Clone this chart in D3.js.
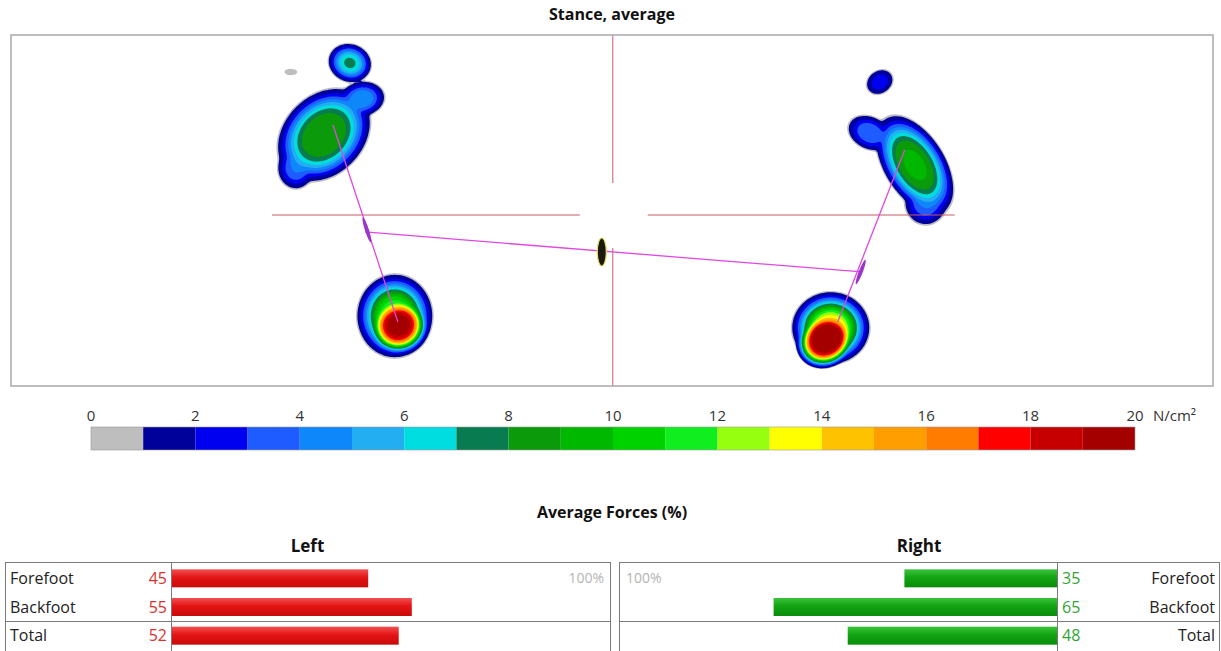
<!DOCTYPE html>
<html>
<head>
<meta charset="utf-8">
<script src="https://cdn.jsdelivr.net/npm/d3@7"></script>
<style>
	body { margin: 0; background: #fff; }
	svg { display: block; font-family: "Segoe UI", "Open Sans", sans-serif; }
</style>
</head>
<body>
<svg id="chart" width="1221" height="651"></svg>
<script>
// plate is 120 x 35 cm, pressure in N/cm2
const plateWidth = 120, plateHeight = 35;

// pressure spots: [cx, cy, rx, ry, angle deg, peak, sharpness]
const leftFootSpots = [
	[27.94, 3.69, 1.0, 0.5, 0, 0.9, 2],
	[33.83, 2.79, 2.35, 2.05, 20, 7.3, 3],
	[31.24, 9.97, 5.5, 4.2, -45, 9, 4],
	[35.03, 6.38, 2.5, 1.9, -10, 5, 3],
	[28.44, 13.26, 2.0, 2.3, 0, 4, 3],
	[38.32, 28.02, 4.0, 4.4, 0, 12, 3.5],
	[38.72, 29.01, 3.2, 3.0, -20, 19.1, 4.5]
];
const rightFootSpots = [
	[86.73, 4.69, 1.6, 1.3, -35, 2.6, 3],
	[90.22, 12.96, 5.8, 3.2, 58, 9.2, 4],
	[85.73, 9.77, 2.5, 1.8, 25, 4, 3],
	[91.32, 16.75, 2.3, 2.4, 0, 4, 3],
	[81.84, 29.21, 4.1, 3.8, 0, 14, 3.5],
	[81.34, 30.41, 3.2, 2.8, -35, 20, 5]
];

// centre of pressure lines
const copLines = [
	[[32.14, 8.97], [38.62, 28.61]],
	[[89.22, 11.47], [82.53, 28.61]],
	[[35.33, 19.64], [84.93, 23.63]]
];
const copMarkers = [[35.53, 19.44, 72], [84.83, 23.63, 111]];
const centreMarker = [58.98, 21.64];

// reference cross
const crossX = 60.08, crossY = 17.95;
const crossHoriz = [[26.05, 56.79], [63.57, 94.21]];
const crossVert = [[0, 14.76], [21.24, 35]];

const legendColors = ['#bebebe', '#00009a', '#0000f0', '#1f5cff', '#0d87fa', '#22aef0', '#00dde0',
	'#087c50', '#0a9a0a', '#00b800', '#00d200', '#10ee20', '#96ff10', '#ffff00', '#ffc200',
	'#ff9e00', '#ff7c00', '#ff0000', '#c60000', '#a40000'];
const legendTicks = [0, 2, 4, 6, 8, 10, 12, 14, 16, 18, 20];
const thresholds = [0.7, 1, 2, 3, 4, 5, 6, 7, 8, 9, 10, 11, 12, 13, 14, 15, 16, 17, 18, 19];

const forceRows = ['Forefoot', 'Backfoot', 'Total'];
const leftForces = [45, 55, 52];
const rightForces = [35, 65, 48];

const svg = d3.select('#chart');
const plot = { left: 11, top: 35, right: 1213, bottom: 386 };

const x = d3.scaleLinear().domain([0, plateWidth]).range([plot.left, plot.right]);
const y = d3.scaleLinear().domain([0, plateHeight]).range([plot.top, plot.bottom]);

svg.append('text')
	.attr('x', 612).attr('y', 20)
	.attr('text-anchor', 'middle')
	.attr('font-weight', 'bold')
	.attr('font-size', 16)
	.attr('fill', '#111')
	.text('Stance, average');

svg.append('clipPath').attr('id', 'plate-clip')
	.append('rect')
	.attr('x', plot.left).attr('y', plot.top)
	.attr('width', plot.right - plot.left).attr('height', plot.bottom - plot.top);

const plate = svg.append('g').attr('clip-path', 'url(#plate-clip)');

// pressure field on a grid
const step = 0.2;
const nx = Math.round(plateWidth / step), ny = Math.round(plateHeight / step);
const edge = 0.5;
const spots = leftFootSpots.concat(rightFootSpots);
const values = new Float64Array(nx * ny);

function spotValue (s, px, py) {
	const a = s[4] * Math.PI / 180;
	const dx = px - s[0], dy = py - s[1];
	const xr = dx * Math.cos(a) + dy * Math.sin(a);
	const yr = -dx * Math.sin(a) + dy * Math.cos(a);
	const d = Math.sqrt((xr / s[2]) ** 2 + (yr / s[3]) ** 2);
	if (d > 3) return 0;
	return s[5] * Math.pow(edge / s[5], Math.pow(d, s[6]));
}

// soft maximum so neighbouring spots merge smoothly
for (let j = 0; j < ny; j++) {
	for (let i = 0; i < nx; i++) {
		const px = (i + 0.5) * step, py = (j + 0.5) * step;
		let v = 0;
		for (let s of spots) v += spotValue(s, px, py) ** 4;
		values[j * nx + i] = Math.pow(v, 0.25);
	}
}

const contours = d3.contours().size([nx, ny]).thresholds(thresholds)(values);
const gridPath = d3.geoPath(d3.geoTransform({
	point: function (gx, gy) { this.stream.point(x(gx * step), y(gy * step)); }
}));

plate.selectAll('path.band')
	.data(contours)
	.join('path')
	.attr('class', 'band')
	.attr('d', gridPath)
	.attr('fill', (d, i) => legendColors[i]);

// cross
const crossColor = '#c85a64';
plate.selectAll('line.cross-h')
	.data(crossHoriz)
	.join('line')
	.attr('x1', d => x(d[0])).attr('x2', d => x(d[1]))
	.attr('y1', y(crossY)).attr('y2', y(crossY))
	.attr('stroke', crossColor).attr('stroke-width', 1);
plate.selectAll('line.cross-v')
	.data(crossVert)
	.join('line')
	.attr('x1', x(crossX)).attr('x2', x(crossX))
	.attr('y1', d => y(d[0])).attr('y2', d => y(d[1]))
	.attr('stroke', crossColor).attr('stroke-width', 1);

// centre of pressure
plate.selectAll('line.cop')
	.data(copLines)
	.join('line')
	.attr('x1', d => x(d[0][0])).attr('y1', d => y(d[0][1]))
	.attr('x2', d => x(d[1][0])).attr('y2', d => y(d[1][1]))
	.attr('stroke', '#e048e0').attr('stroke-width', 1.3);

plate.selectAll('ellipse.cop')
	.data(copMarkers)
	.join('ellipse')
	.attr('transform', d => `translate(${x(d[0])},${y(d[1])}) rotate(${d[2] - 90})`)
	.attr('rx', 2).attr('ry', 13)
	.attr('fill', '#9a36c8');

plate.append('ellipse')
	.attr('cx', x(centreMarker[0])).attr('cy', y(centreMarker[1]))
	.attr('rx', 4.5).attr('ry', 14)
	.attr('fill', '#1a1a10')
	.attr('stroke', '#e8e060').attr('stroke-width', 1.2);

svg.append('rect')
	.attr('x', plot.left).attr('y', plot.top)
	.attr('width', plot.right - plot.left).attr('height', plot.bottom - plot.top)
	.attr('fill', 'none')
	.attr('stroke', '#a8a8a8').attr('stroke-width', 1.5);

// colour legend
const lx = d3.scaleLinear().domain([0, 20]).range([91, 1135]);
const legend = svg.append('g');
legend.selectAll('rect')
	.data(legendColors)
	.join('rect')
	.attr('x', (d, i) => lx(i)).attr('y', 427)
	.attr('width', (d, i) => lx(i + 1) - lx(i)).attr('height', 23)
	.attr('fill', d => d);
legend.append('rect')
	.attr('x', lx(0)).attr('y', 427)
	.attr('width', lx(20) - lx(0)).attr('height', 23)
	.attr('fill', 'none').attr('stroke', '#999').attr('stroke-width', 0.6);
legend.selectAll('text')
	.data(legendTicks)
	.join('text')
	.attr('x', d => lx(d)).attr('y', 421)
	.attr('text-anchor', 'middle')
	.attr('font-size', 15)
	.attr('fill', '#333')
	.text(d => d);
legend.append('text')
	.attr('x', 1153).attr('y', 421)
	.attr('font-size', 15)
	.attr('fill', '#333')
	.text('N/cm²');

// forces
svg.append('text')
	.attr('x', 612).attr('y', 518)
	.attr('text-anchor', 'middle')
	.attr('font-weight', 'bold').attr('font-size', 16)
	.attr('fill', '#111')
	.text('Average Forces (%)');

const defs = svg.append('defs');
function barGradient (id, light, mid, dark) {
	const g = defs.append('linearGradient').attr('id', id)
		.attr('x1', 0).attr('x2', 0).attr('y1', 0).attr('y2', 1);
	g.append('stop').attr('offset', '0%').attr('stop-color', light);
	g.append('stop').attr('offset', '45%').attr('stop-color', mid);
	g.append('stop').attr('offset', '100%').attr('stop-color', dark);
}
barGradient('red-bar', '#f25050', '#e41414', '#c80a0a');
barGradient('green-bar', '#3cc23c', '#12a412', '#0a8c0a');

const boxTop = 562;
const rowY = d3.scaleBand().domain(forceRows).range([564, 650]);
const barHeight = 18;

const panels = [
	{ name: 'Left', x0: 5, x1: 610, divider: 171, values: leftForces, scale: d3.scaleLinear().domain([0, 100]).range([172, 608]),
		fill: 'url(#red-bar)', numColor: '#d8322c', side: 'left' },
	{ name: 'Right', x0: 619, x1: 1219, divider: 1057, values: rightForces, scale: d3.scaleLinear().domain([0, 100]).range([1057, 621]),
		fill: 'url(#green-bar)', numColor: '#34a334', side: 'right' }
];

panels.forEach(p => {
	const g = svg.append('g');
	g.append('text')
		.attr('x', (p.x0 + p.x1) / 2).attr('y', 552)
		.attr('text-anchor', 'middle')
		.attr('font-weight', 'bold').attr('font-size', 17)
		.attr('fill', '#111')
		.text(p.name);
	g.append('rect')
		.attr('x', p.x0 + 0.5).attr('y', boxTop + 0.5)
		.attr('width', p.x1 - p.x0).attr('height', 120)
		.attr('fill', 'none').attr('stroke', '#7a7a7a');
	g.append('line')
		.attr('x1', p.divider + 0.5).attr('x2', p.divider + 0.5)
		.attr('y1', boxTop).attr('y2', 651)
		.attr('stroke', '#7a7a7a');
	g.append('line')
		.attr('x1', p.x0).attr('x2', p.x1)
		.attr('y1', Math.round(rowY('Total')) + 0.5).attr('y2', Math.round(rowY('Total')) + 0.5)
		.attr('stroke', '#7a7a7a');

	const left = p.side === 'left';
	g.append('text')
		.attr('x', left ? p.scale(100) - 4 : p.scale(100) + 5)
		.attr('y', rowY('Forefoot') + rowY.bandwidth() / 2 + 5)
		.attr('text-anchor', left ? 'end' : 'start')
		.attr('font-size', 14).attr('fill', '#b4b4b4')
		.text('100%');

	g.selectAll('rect.bar')
		.data(p.values)
		.join('rect')
		.attr('class', 'bar')
		.attr('x', d => Math.min(p.scale(0), p.scale(d)))
		.attr('y', (d, i) => rowY(forceRows[i]) + rowY.bandwidth() / 2 - barHeight / 2)
		.attr('width', d => Math.abs(p.scale(d) - p.scale(0)))
		.attr('height', barHeight)
		.attr('fill', p.fill);

	g.selectAll('text.num')
		.data(p.values)
		.join('text')
		.attr('class', 'num')
		.attr('x', left ? p.divider - 4 : p.divider + 5)
		.attr('y', (d, i) => rowY(forceRows[i]) + rowY.bandwidth() / 2 + 5.5)
		.attr('text-anchor', left ? 'end' : 'start')
		.attr('font-size', 16).attr('fill', p.numColor)
		.text(d => d);

	g.selectAll('text.row')
		.data(forceRows)
		.join('text')
		.attr('class', 'row')
		.attr('x', left ? p.x0 + 5 : p.x1 - 4)
		.attr('y', d => rowY(d) + rowY.bandwidth() / 2 + 5.5)
		.attr('text-anchor', left ? 'start' : 'end')
		.attr('font-size', 16).attr('fill', '#222')
		.text(d => d);
});
</script>
</body>
</html>
